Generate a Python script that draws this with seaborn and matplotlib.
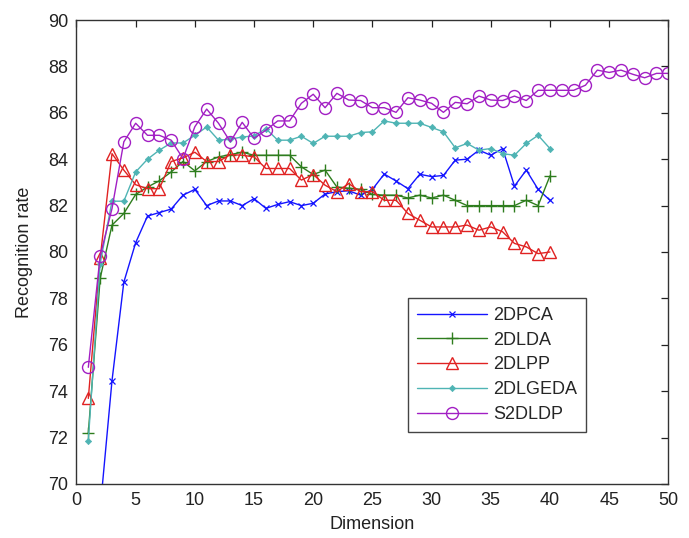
import matplotlib
matplotlib.use("Agg")
import matplotlib.pyplot as plt
import seaborn as sns
import pandas as pd
import numpy as np

# ---- data ----
dims40 = list(range(1, 41))
dims50 = list(range(1, 51))

pca_2d = [60.5, 68.9, 74.45, 78.7, 80.4, 81.55, 81.7, 81.85, 82.45, 82.7,
          82.0, 82.2, 82.2, 82.0, 82.3, 81.88, 82.05, 82.17, 82.0, 82.1,
          82.5, 82.6, 82.64, 82.45, 82.7, 83.36, 83.06, 82.73, 83.35, 83.25,
          83.3, 83.96, 84.0, 84.39, 84.17, 84.46, 82.84, 83.53, 82.7, 82.23]
lda_2d = [72.2, 78.86, 81.16, 81.66, 82.48, 82.8, 83.07, 83.45, 83.9, 83.5,
          83.9, 84.1, 84.2, 84.3, 84.17, 84.17, 84.17, 84.17, 83.67, 83.34,
          83.53, 82.8, 82.75, 82.7, 82.48, 82.45, 82.45, 82.33, 82.45, 82.33,
          82.45, 82.23, 82.0, 82.0, 82.0, 82.0, 82.0, 82.23, 82.0, 83.28]
lpp_2d = [73.69, 79.72, 84.24, 83.53, 82.9, 82.73, 82.73, 83.9, 84.06, 84.3,
          83.9, 83.9, 84.2, 84.17, 84.1, 83.6, 83.6, 83.6, 83.1, 83.34,
          82.88, 82.6, 82.95, 82.6, 82.6, 82.23, 82.23, 81.66, 81.37, 81.08,
          81.08, 81.08, 81.16, 80.94, 81.08, 80.87, 80.37, 80.22, 79.93, 80.0]
lgeda_2d = [71.87, 79.5, 82.19, 82.19, 83.45, 84.0, 84.39, 84.7, 84.7, 85.03,
            85.39, 84.82, 84.86, 84.96, 85.0, 85.32, 84.82, 84.82, 84.99, 84.68,
            84.99, 84.99, 84.99, 85.15, 85.18, 85.65, 85.55, 85.55, 85.55, 85.37,
            85.18, 84.49, 84.68, 84.39, 84.46, 84.24, 84.17, 84.68, 85.03, 84.46]
s2dldp = [75.03, 79.83, 81.87, 84.75, 85.55, 85.03, 85.03, 84.82, 84.03, 85.4,
          86.16, 85.55, 84.75, 85.59, 84.9, 85.25, 85.65, 85.65, 86.41, 86.8,
          86.22, 86.84, 86.55, 86.53, 86.22, 86.22, 86.02, 86.65, 86.55, 86.41,
          86.02, 86.45, 86.39, 86.72, 86.55, 86.53, 86.72, 86.53, 86.97, 86.97,
          86.97, 86.97, 87.19, 87.84, 87.74, 87.84, 87.66, 87.51, 87.7, 87.7]

series_names = ["2DPCA", "2DLDA", "2DLPP", "2DLGEDA", "S2DLDP"]
x_ticks = [0, 5, 10, 15, 20, 25, 30, 35, 40, 45, 50]
y_ticks = [70, 72, 74, 76, 78, 80, 82, 84, 86, 88, 90]

# ---- style ----
sns.set_style("white")
plt.rcParams["font.family"] = ["Liberation Sans", "DejaVu Sans"]

fig = plt.figure(figsize=(6.89, 5.38), dpi=100)
ax = fig.add_axes([0.111, 0.1004, 0.859, 0.8624])

styles = {
    "2DPCA":   dict(color="#1414ff", marker="x", markersize=5, mew=0.9, mfc="none"),
    "2DLDA":   dict(color="#2e7d1e", marker="+", markersize=9, mew=1.0, mfc="none"),
    "2DLPP":   dict(color="#e02222", marker="^", markersize=9, mew=1.0, mfc="none"),
    "2DLGEDA": dict(color="#4fb4b4", marker="D", markersize=3.2, mew=0.5),
    "S2DLDP":  dict(color="#a21fc4", marker="o", markersize=8.6, mew=1.0, mfc="none"),
}
data = {
    "2DPCA": (dims40, pca_2d),
    "2DLDA": (dims40, lda_2d),
    "2DLPP": (dims40, lpp_2d),
    "2DLGEDA": (dims40, lgeda_2d),
    "S2DLDP": (dims50, s2dldp),
}

for name in series_names:
    xs, ys = data[name]
    df = pd.DataFrame({"Dimension": xs, "Recognition rate": ys})
    st = styles[name]
    sns.lineplot(data=df, x="Dimension", y="Recognition rate", ax=ax,
                 color=st["color"], marker=st["marker"], markersize=st["markersize"],
                 markeredgewidth=st["mew"], markeredgecolor=st["color"],
                 markerfacecolor=st.get("mfc", st["color"]),
                 linewidth=1.0, label=name, estimator=None, sort=False)

ax.set_xlim(0, 50)
ax.set_ylim(70, 90)
ax.set_xticks(x_ticks)
ax.set_yticks(y_ticks)
ax.tick_params(direction="in", length=5, width=0.9, top=True, right=True,
               labelsize=13, pad=6, colors="#222222", labelcolor="#222222")
for sp in ax.spines.values():
    sp.set_visible(True)
    sp.set_color("#333333")
    sp.set_linewidth(1.0)
ax.set_xlabel("Dimension", fontsize=13, labelpad=5, color="#222222")
ax.set_ylabel("Recognition rate", fontsize=13, labelpad=11, color="#222222")

leg = ax.legend(loc="upper left", bbox_to_anchor=(0.56, 0.401), borderaxespad=0,
                handlelength=3.9, labelspacing=0.43, fancybox=False, framealpha=1,
                edgecolor="#444444", borderpad=0.5, handletextpad=0.3,
                prop={"family": ["Liberation Sans", "DejaVu Sans"], "size": 13})
leg.get_frame().set_linewidth(1.0)

fig.savefig("out.png", dpi=100)
